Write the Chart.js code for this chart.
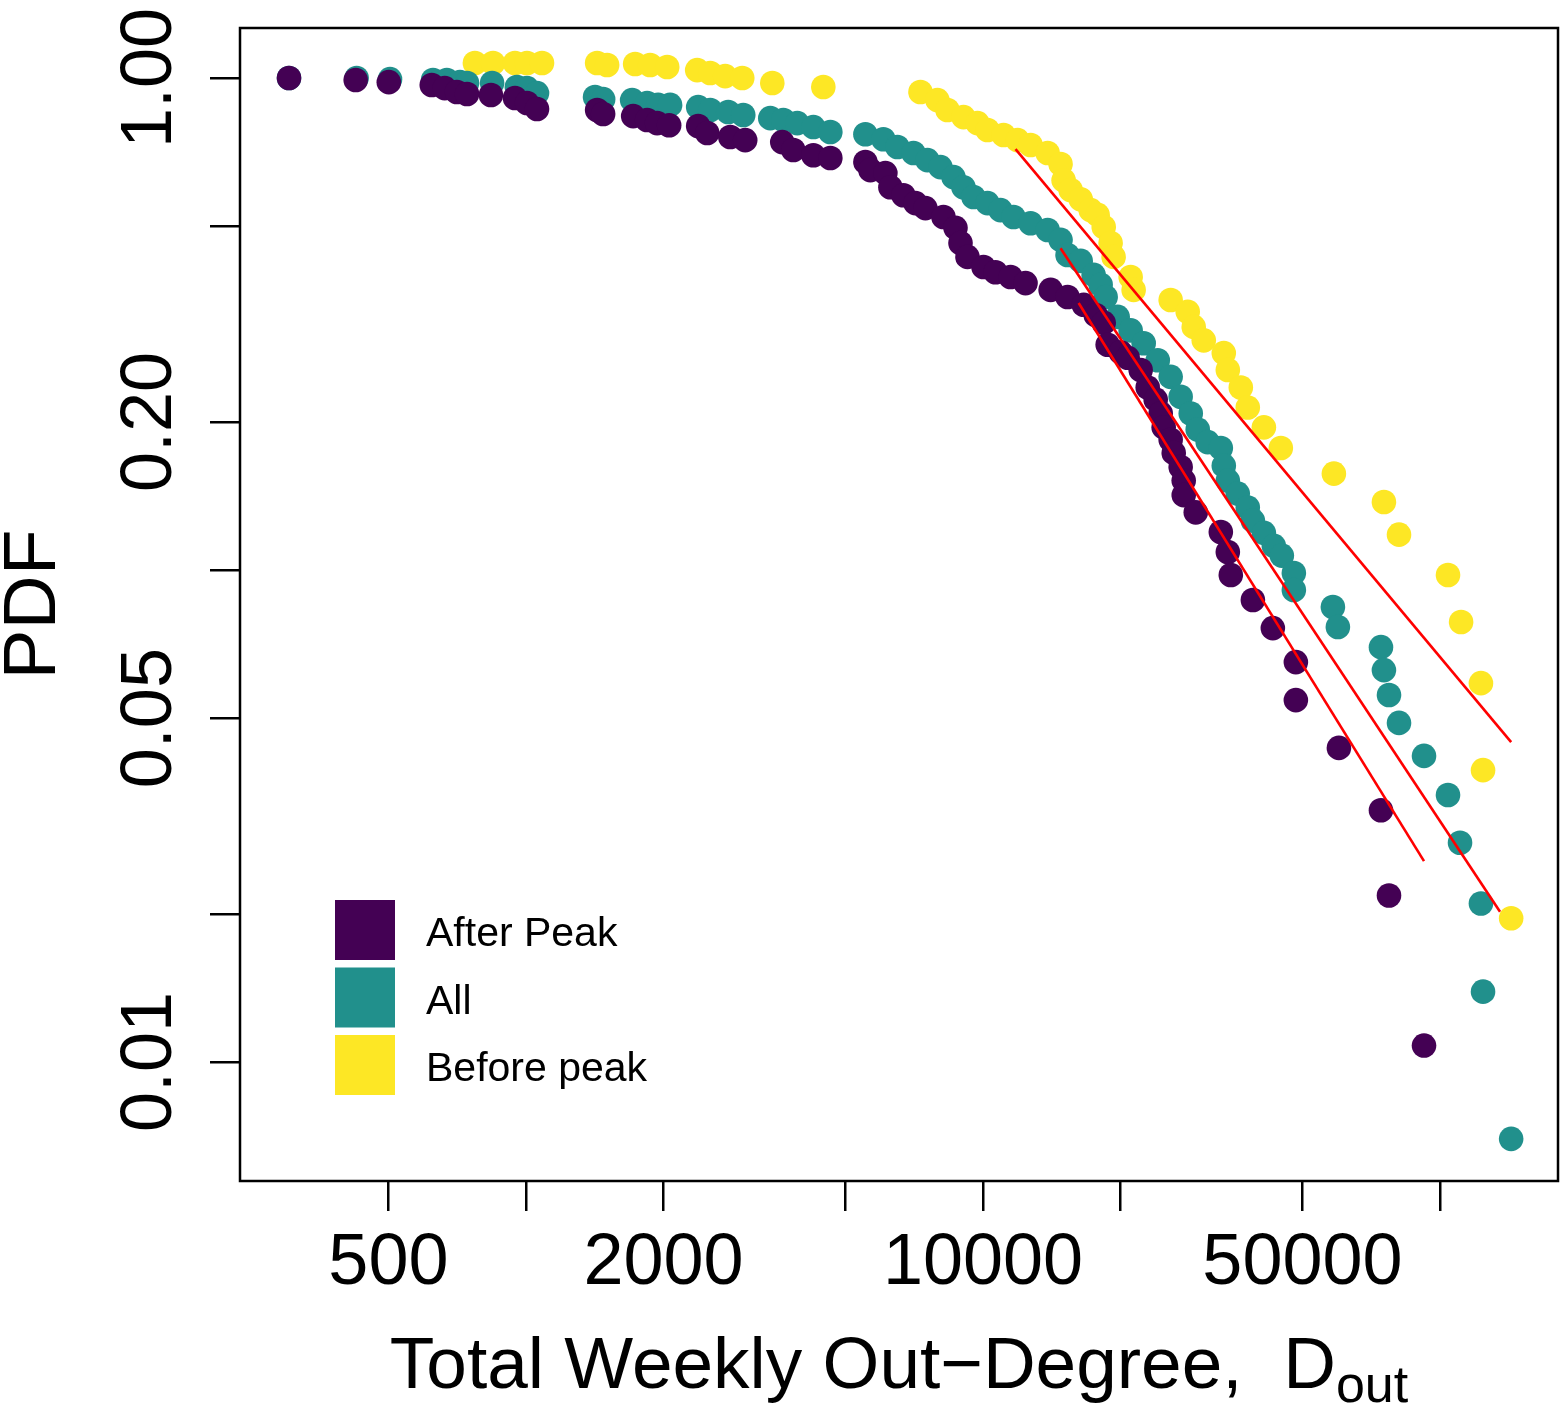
<!DOCTYPE html>
<html>
<head>
<meta charset="utf-8">
<script src="https://cdn.jsdelivr.net/npm/chart.js@4.4.1/dist/chart.umd.min.js"></script>
<style>
  html, body { margin: 0; padding: 0; background: #fff; overflow: hidden; }
  #wrap { width: 1560px; height: 1412px; }
  canvas { display: block; }
</style>
</head>
<body>
<div id="wrap"><canvas id="degreeChart" width="1560" height="1412"></canvas></div>
<script>
// ---------------------- Data ----------------------
// Complementary distribution of total weekly out-degree, three periods
const afterX = [303, 424, 501, 622, 664, 706, 743, 838, 946, 1005,
  1057, 1431, 1475, 1716, 1841, 1936, 2057, 2381, 2492, 2799,
  3018, 3637, 3845, 4254, 4634, 5529, 5670, 6115, 6272, 6697,
  7115, 7482, 8193, 8706, 8928, 9248, 10025, 10650, 11490, 12390,
  14060, 15310, 16610, 17640, 18370, 18740, 20010, 20730, 22130, 22930,
  23870, 24480, 24850, 25740, 26140, 27070, 27490, 27490, 29210, 33140,
  34330, 34850, 38950, 43070, 48370, 48370, 60080, 74260, 77330, 92250];
const afterY = [1.0, 0.991, 0.981, 0.968, 0.954, 0.937, 0.928, 0.924, 0.911, 0.890,
  0.865, 0.861, 0.845, 0.837, 0.822, 0.810, 0.802, 0.799, 0.773, 0.759,
  0.748, 0.741, 0.714, 0.697, 0.688, 0.675, 0.650, 0.641, 0.600, 0.578,
  0.557, 0.544, 0.522, 0.496, 0.462, 0.433, 0.413, 0.403, 0.394, 0.383,
  0.371, 0.359, 0.346, 0.330, 0.318, 0.287, 0.277, 0.270, 0.255, 0.235,
  0.222, 0.208, 0.195, 0.184, 0.173, 0.162, 0.152, 0.142, 0.131, 0.1195,
  0.1088, 0.0977, 0.0869, 0.0762, 0.065, 0.0544, 0.0435, 0.0325, 0.0218, 0.0108];

const allX = [303, 426, 504, 626, 671, 717, 743, 843, 955, 1005,
  1057, 1416, 1475, 1707, 1841, 1946, 2067, 2381, 2530, 2770,
  2988, 3424, 3656, 3923, 4254, 4634, 5529, 6053, 6497, 7044,
  7557, 8071, 8618, 9064, 9532, 10230, 10920, 11660, 12710, 13850,
  14780, 15310, 16360, 17460, 18090, 18550, 19710, 21040, 22470, 24120,
  25740, 27070, 28480, 29500, 31020, 33140, 33640, 34330, 36090, 37960,
  38950, 41170, 43290, 45070, 47880, 47880, 58290, 59770, 74260, 75380,
  77330, 81330, 92250, 104100, 110600, 122900, 124200, 143100];
const allY = [1.0, 1.0, 0.995, 0.991, 0.991, 0.981, 0.977, 0.977, 0.959, 0.954,
  0.932, 0.915, 0.906, 0.902, 0.890, 0.882, 0.882, 0.873, 0.861, 0.853,
  0.841, 0.829, 0.822, 0.810, 0.795, 0.777, 0.769, 0.751, 0.724, 0.704,
  0.681, 0.659, 0.629, 0.600, 0.573, 0.557, 0.539, 0.522, 0.507, 0.491,
  0.469, 0.437, 0.425, 0.398, 0.380, 0.359, 0.327, 0.307, 0.289, 0.267,
  0.247, 0.225, 0.208, 0.193, 0.182, 0.177, 0.163, 0.152, 0.143, 0.134,
  0.126, 0.119, 0.112, 0.107, 0.0986, 0.0911, 0.0841, 0.0766, 0.0697, 0.0626,
  0.0557, 0.0489, 0.0419, 0.0349, 0.0279, 0.0210, 0.0139, 0.00698];

const beforeX = [773, 847, 946, 1005, 1084, 1431, 1505, 1733, 1869, 2037,
  2369, 2530, 2728, 2973, 3459, 4473, 7297, 7948, 8360, 9064,
  9727, 10230, 11090, 11900, 12710, 13850, 14780, 15010, 15550, 16360,
  17200, 17820, 18370, 19020, 19310, 21040, 21360, 25740, 28050, 28910,
  30410, 33640, 34330, 36650, 37960, 41170, 44840, 58580, 75380, 81330,
  104100, 111200, 122900, 124200, 143100];
const beforeY = [1.073, 1.073, 1.073, 1.073, 1.073, 1.073, 1.063, 1.068, 1.063, 1.053,
  1.038, 1.024, 1.009, 1.0, 0.977, 0.959, 0.937, 0.902, 0.861, 0.833,
  0.810, 0.784, 0.766, 0.748, 0.731, 0.704, 0.669, 0.620, 0.592, 0.567,
  0.539, 0.527, 0.498, 0.462, 0.433, 0.394, 0.371, 0.354, 0.335, 0.312,
  0.293, 0.276, 0.255, 0.235, 0.214, 0.195, 0.177, 0.157, 0.1375, 0.118,
  0.0977, 0.0784, 0.0589, 0.0392, 0.0196];

// power-law tail fits (start / end of each segment)
const fitAfterX = [16190, 92250],  fitAfterY = [0.349, 0.0256];
const fitAllX = [14780, 135300],   fitAllY = [0.451, 0.0202];
const fitBeforeX = [11780, 143100], fitBeforeY = [0.717, 0.0447];

// axes
const X_TICKS = [500, 1000, 2000, 5000, 10000, 20000, 50000, 100000];
const X_LABELED = [500, 2000, 10000, 50000];
const Y_TICKS = [0.01, 0.02, 0.05, 0.1, 0.2, 0.5, 1];
const Y_LABELED = [0.01, 0.05, 0.2, 1];
const X_RANGE = [236.7, 181200];
const Y_RANGE = [0.00573, 1.264];

const COL = { after: '#440154', all: '#21908C', before: '#FDE725', fit: '#FF0000' };
const FONT = '"Liberation Sans", Arial, Helvetica, sans-serif';

// ---------------------- Helpers ----------------------
const zip = (xs, ys) => xs.map((x, i) => ({ x, y: ys[i] }));

function pointSet(label, xs, ys, color) {
  return {
    label, data: zip(xs, ys),
    backgroundColor: color, borderColor: color, borderWidth: 0,
    pointRadius: 12.3, pointHoverRadius: 12.3, showLine: false,
  };
}

function fitSet(xs, ys) {
  return {
    label: 'fit', data: zip(xs, ys), showLine: true,
    borderColor: COL.fit, borderWidth: 2.6, pointRadius: 0, fill: false,
  };
}

// ---------------------- Decorations ----------------------
const frame = {
  id: 'frame',
  beforeDatasetsDraw(chart) {
    const { ctx, chartArea: a } = chart;
    ctx.save();
    ctx.strokeStyle = '#000';
    ctx.lineWidth = 2.5;
    ctx.strokeRect(a.left, a.top, a.right - a.left, a.bottom - a.top);
    ctx.restore();
  },
};

const annotations = {
  id: 'annotations',
  afterDraw(chart) {
    const { ctx, chartArea: a } = chart;
    const ys = chart.scales.y;
    ctx.save();
    ctx.fillStyle = '#000';

    // rotated y tick labels
    ctx.font = `72px ${FONT}`;
    ctx.textAlign = 'center';
    ctx.textBaseline = 'alphabetic';
    Y_LABELED.forEach(v => {
      ctx.save();
      ctx.translate(171, ys.getPixelForValue(v));
      ctx.rotate(-Math.PI / 2);
      ctx.fillText(v.toFixed(2), 0, 0);
      ctx.restore();
    });

    // y title
    ctx.font = `75px ${FONT}`;
    ctx.save();
    ctx.translate(55, (a.top + a.bottom) / 2);
    ctx.rotate(-Math.PI / 2);
    ctx.fillText('PDF', 0, 0);
    ctx.restore();

    // x title with subscript
    const main = 'Total Weekly Out\u2212Degree,  D';
    const sub = 'out';
    ctx.textAlign = 'left';
    ctx.font = `73px ${FONT}`;
    const wMain = ctx.measureText(main).width;
    ctx.font = `52px ${FONT}`;
    const wSub = ctx.measureText(sub).width;
    const x0 = (a.left + a.right) / 2 - (wMain + wSub) / 2;
    ctx.font = `73px ${FONT}`;
    ctx.fillText(main, x0, 1388);
    ctx.font = `52px ${FONT}`;
    ctx.fillText(sub, x0 + wMain, 1402);

    // legend
    const entries = chart.data.datasets.filter(d => d.label !== 'fit');
    ctx.font = `41px ${FONT}`;
    ctx.textBaseline = 'middle';
    entries.forEach((d, i) => {
      const top = 900 + i * 67.5;
      ctx.fillStyle = d.backgroundColor;
      ctx.fillRect(335, top, 60, 60);
      ctx.fillStyle = '#000';
      ctx.fillText(d.label, 426, top + 35);
    });
    ctx.restore();
  },
};

// ---------------------- Chart ----------------------
new Chart(document.getElementById('degreeChart'), {
  type: 'scatter',
  data: {
    datasets: [
      fitSet(fitAfterX, fitAfterY),
      fitSet(fitAllX, fitAllY),
      fitSet(fitBeforeX, fitBeforeY),
      pointSet('After Peak', afterX, afterY, COL.after),
      pointSet('All', allX, allY, COL.all),
      pointSet('Before peak', beforeX, beforeY, COL.before),
    ],
  },
  options: {
    responsive: false,
    animation: false,
    layout: { autoPadding: false, padding: { top: 28, right: 2, left: 0, bottom: 0 } },
    plugins: { legend: { display: false }, tooltip: { enabled: false } },
    scales: {
      x: {
        type: 'logarithmic',
        min: X_RANGE[0], max: X_RANGE[1],
        afterBuildTicks: s => { s.ticks = X_TICKS.map(v => ({ value: v })); },
        afterFit: s => { s.height = 231; },
        border: { display: false },
        grid: { drawOnChartArea: false, drawTicks: true, tickLength: 30, color: '#000', lineWidth: 2.5 },
        ticks: {
          autoSkip: false, minRotation: 0, maxRotation: 0, padding: 10,
          color: '#000', font: { family: FONT, size: 72 },
          callback: v => X_LABELED.includes(v) ? String(v) : '',
        },
      },
      y: {
        type: 'logarithmic',
        min: Y_RANGE[0], max: Y_RANGE[1],
        afterBuildTicks: s => { s.ticks = Y_TICKS.map(v => ({ value: v })); },
        afterFit: s => { s.width = 240; },
        border: { display: false },
        grid: { drawOnChartArea: false, drawTicks: true, tickLength: 30, color: '#000', lineWidth: 2.5 },
        ticks: { autoSkip: false, callback: () => '' },
      },
    },
  },
  plugins: [frame, annotations],
});
</script>
</body>
</html>
